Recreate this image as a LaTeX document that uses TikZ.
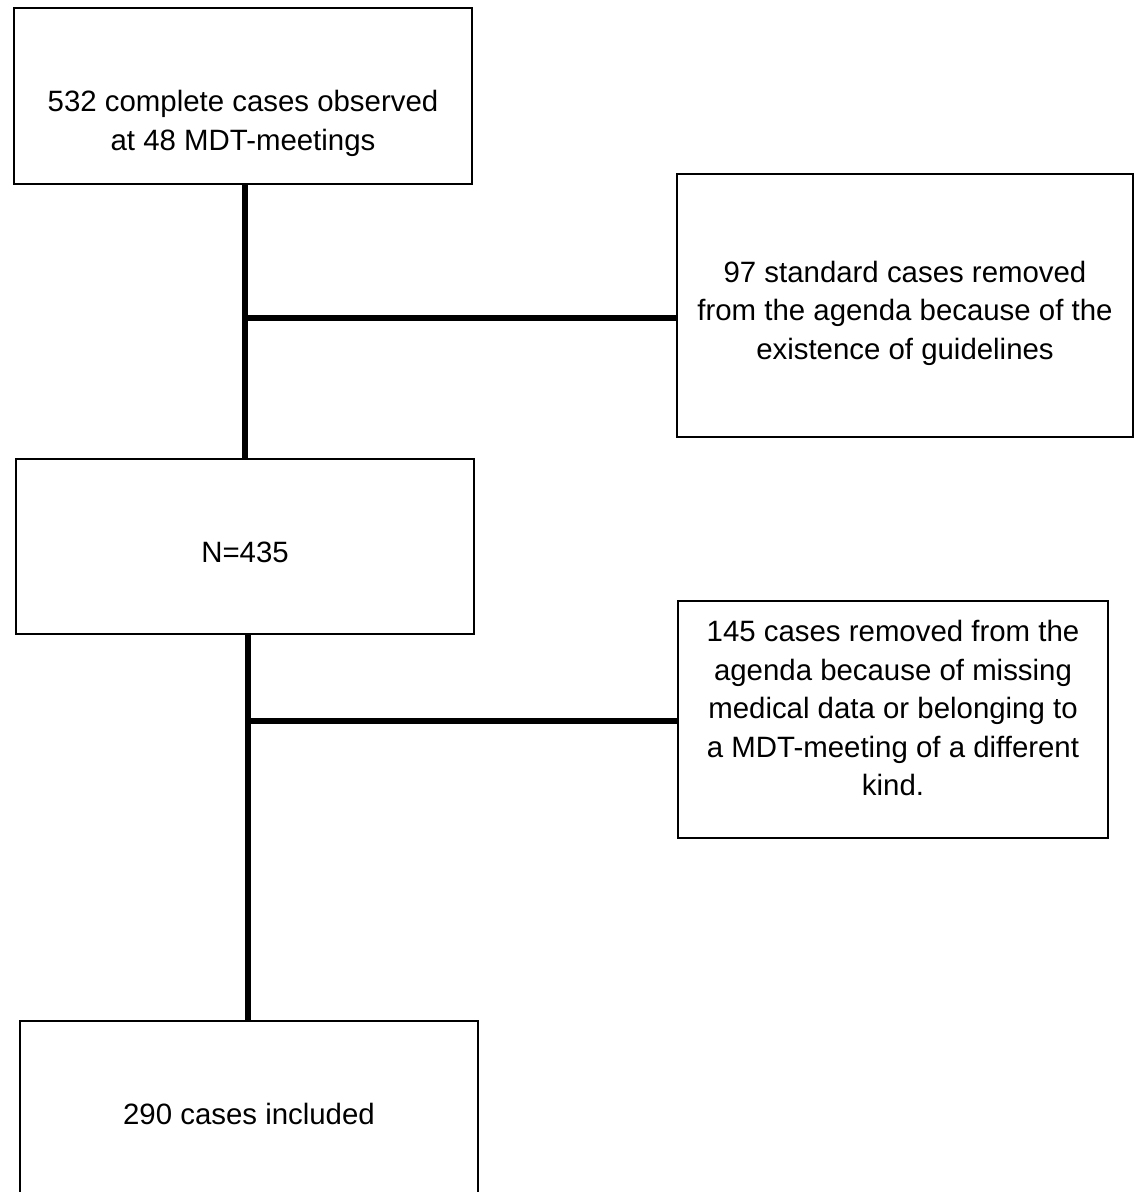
\documentclass[tikz,border=0pt]{standalone}
\usepackage{fontspec}
\setmainfont{Liberation Sans}[Ligatures=CommonOff]
\begin{document}
\begin{tikzpicture}[x=1pt,y=-1pt,
  box/.style={draw,line width=1.5pt,inner sep=0pt},
  txt/.style={align=center,font=\fontsize{29.4}{38.5}\selectfont,inner sep=0pt},
  conn/.style={line width=5.5pt}]
\useasboundingbox (0,0) rectangle (1136,1192);
\node[box,minimum width=458pt,minimum height=176pt] (b1) at (243,96) {};
\node[txt] (t1) at (243,123.5) {532 complete cases observed\\at 48 MDT-meetings};
\node[box,minimum width=456pt,minimum height=263pt] (r1) at (905,305.5) {};
\node[txt] (tr1) at (905,313) {97 standard cases removed\\from the agenda because of the\\existence of guidelines};
\node[box,minimum width=458pt,minimum height=175pt] (bn) at (245,546.5) {};
\node[txt] (tn) at (245,552) {N=435};
\node[box,minimum width=430pt,minimum height=237pt] (r2) at (893,719.5) {};
\node[txt] (tr2) at (893,708) {145 cases removed from the\\agenda because of missing\\medical data or belonging to\\a MDT-meeting of a different\\kind.};
\node[box,minimum width=458pt,minimum height=176pt] (b3) at (249,1109) {};
\node[txt] (t3) at (249,1114) {290 cases included};
\coordinate (j1) at (245,318);
\coordinate (j2) at (248,721);
\draw[conn] (b1.south -| bn) -- (bn.north);
\draw[conn] (j1) -- (j1 -| r1.west);
\draw[conn] (bn.south -| j2) -- (b3.north -| j2);
\draw[conn] (j2) -- (j2 -| r2.west);
\end{tikzpicture}
\end{document}
